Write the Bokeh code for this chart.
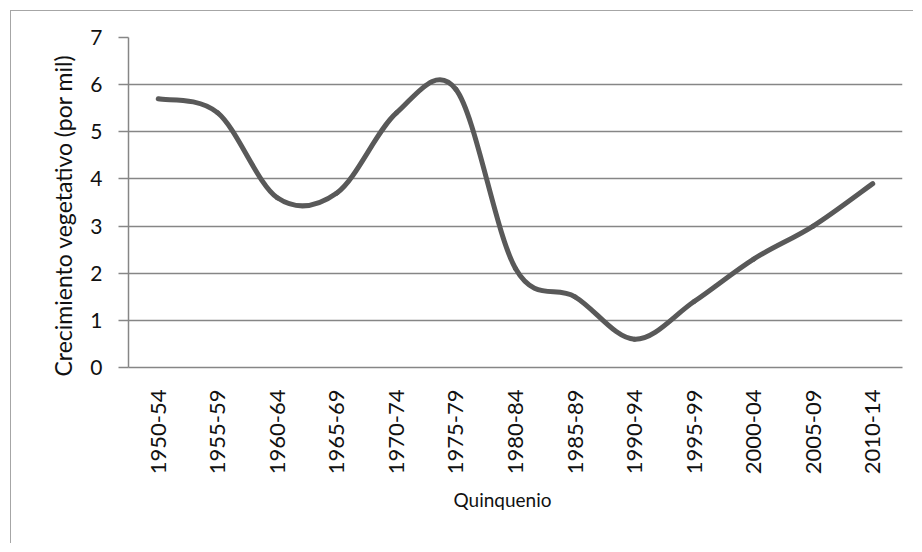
import math
from bokeh.plotting import figure
from bokeh.models import Range1d, FixedTicker, ColumnDataSource, Title
from bokeh.embed import file_html
from bokeh.resources import INLINE

quinquenios = ["1950-54", "1955-59", "1960-64", "1965-69", "1970-74", "1975-79",
               "1980-84", "1985-89", "1990-94", "1995-99", "2000-04", "2005-09", "2010-14"]
crecimiento = [5.7, 5.4, 3.6, 3.7, 5.4, 5.9, 2.1, 1.5, 0.6, 1.4, 2.3, 3.0, 3.9]
y_ticks = [0, 1, 2, 3, 4, 5, 6, 7]
x_title = "Quinquenio"
y_title = "Crecimiento vegetativo (por mil)"

n = len(quinquenios)
xs = [i + 0.5 for i in range(n)]


def at(arr, i):
    return arr[min(max(i, 0), n - 1)]


seg = dict(x0=[], y0=[], x1=[], y1=[], cx0=[], cy0=[], cx1=[], cy1=[])
for i in range(n - 1):
    seg["x0"].append(xs[i])
    seg["y0"].append(crecimiento[i])
    seg["x1"].append(xs[i + 1])
    seg["y1"].append(crecimiento[i + 1])
    seg["cx0"].append(xs[i] + (at(xs, i + 1) - at(xs, i - 1)) / 6)
    seg["cy0"].append(crecimiento[i] + (at(crecimiento, i + 1) - at(crecimiento, i - 1)) / 6)
    seg["cx1"].append(xs[i + 1] - (at(xs, i + 2) - at(xs, i)) / 6)
    seg["cy1"].append(crecimiento[i + 1] - (at(crecimiento, i + 2) - at(crecimiento, i)) / 6)
src = ColumnDataSource(seg)

FONT = "Lato"
GRID = "#868686"
TXT = "#111111"

p = figure(width=903, height=533, x_range=Range1d(0, n), y_range=Range1d(0, 7),
           output_backend="svg", toolbar_location=None,
           min_border_left=117, min_border_right=12, min_border_top=26, min_border_bottom=177)
p.styles = {"margin-left": "10px", "margin-top": "10px",
            "border-left": "1px solid #a6a6a6", "border-top": "1px solid #a6a6a6"}
p.outline_line_color = None
p.background_fill_color = "white"
p.border_fill_color = "white"

p.bezier(x0="x0", y0="y0", x1="x1", y1="y1", cx0="cx0", cy0="cy0", cx1="cx1", cy1="cy1",
         source=src, line_color="#595959", line_width=5, line_cap="round")

# x axis
p.xaxis.ticker = FixedTicker(ticks=xs)
p.xaxis.major_label_overrides = {x: c for x, c in zip(xs, quinquenios)}
p.xaxis.major_label_orientation = math.pi / 2
p.xaxis.major_tick_line_color = None
p.xaxis.minor_tick_line_color = None
p.xaxis.axis_line_color = GRID
p.xaxis.axis_line_width = 1.5
p.xaxis.major_label_standoff = 16
p.xaxis.major_label_text_font = FONT
p.xaxis.major_label_text_font_size = "22px"
p.xaxis.major_label_text_color = TXT
p.xgrid.visible = False

# y axis
p.yaxis.ticker = FixedTicker(ticks=y_ticks)
p.yaxis.major_tick_out = 10
p.yaxis.major_tick_in = 0
p.yaxis.major_tick_line_color = GRID
p.yaxis.major_tick_line_width = 1.5
p.yaxis.minor_tick_line_color = None
p.yaxis.axis_line_color = GRID
p.yaxis.axis_line_width = 1.5
p.yaxis.major_label_standoff = 16
p.yaxis.major_label_text_font = FONT
p.yaxis.major_label_text_font_size = "21px"
p.yaxis.major_label_text_color = TXT
p.ygrid.grid_line_color = GRID
p.ygrid.grid_line_width = 1.5

# axis titles, positioned like the original
p.add_layout(Title(text=x_title, align="left", offset=325, standoff=16,
                   text_font=FONT, text_font_size="19px", text_font_style="normal",
                   text_color=TXT), "below")
p.add_layout(Title(text=y_title, align="left", offset=-9, standoff=22,
                   text_font=FONT, text_font_size="23px", text_font_style="normal",
                   text_color=TXT), "left")

open("out.html", "w").write(file_html(p, INLINE))
